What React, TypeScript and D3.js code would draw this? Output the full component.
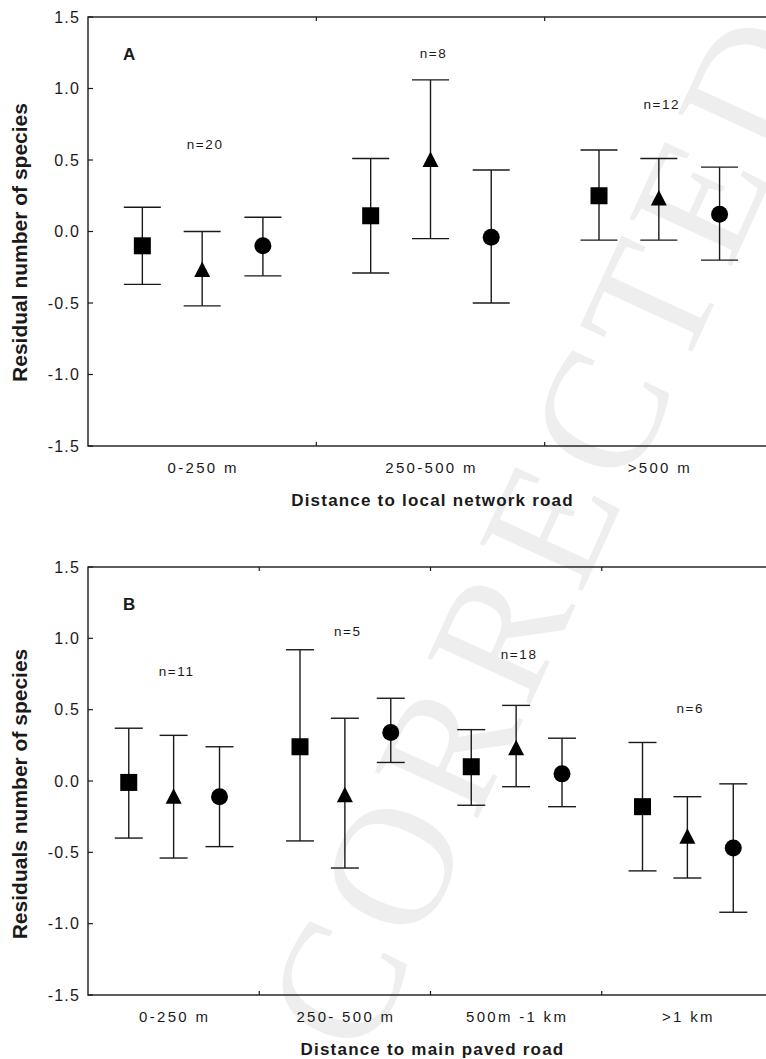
import { useRef, useEffect } from 'react';
import * as d3 from 'd3';

// panel A: distance to local network road
const catsA = ['0-250 m', '250-500 m', '>500 m'];
// each row: [square, triangle, circle]
const meansA = [
  [-0.10, -0.27, -0.10],
  [0.11, 0.50, -0.04],
  [0.25, 0.23, 0.12],
];
const lowA = [
  [-0.37, -0.52, -0.31],
  [-0.29, -0.05, -0.50],
  [-0.06, -0.06, -0.20],
];
const highA = [
  [0.17, 0.0, 0.10],
  [0.51, 1.06, 0.43],
  [0.57, 0.51, 0.45],
];
const nA = ['n=20', 'n=8', 'n=12'];
const nAY = [0.61, 1.25, 0.89];

// panel B: distance to main paved road
const catsB = ['0-250 m', '250- 500 m', '500m -1 km', '>1 km'];
const meansB = [
  [-0.01, -0.11, -0.11],
  [0.24, -0.10, 0.34],
  [0.10, 0.23, 0.05],
  [-0.18, -0.39, -0.47],
];
const lowB = [
  [-0.40, -0.54, -0.46],
  [-0.42, -0.61, 0.13],
  [-0.17, -0.04, -0.18],
  [-0.63, -0.68, -0.92],
];
const highB = [
  [0.37, 0.32, 0.24],
  [0.92, 0.44, 0.58],
  [0.36, 0.53, 0.30],
  [0.27, -0.11, -0.02],
];
const nB = ['n=11', 'n=5', 'n=18', 'n=6'];
const nBY = [0.77, 1.05, 0.89, 0.51];

const yTicks = [-1.5, -1.0, -0.5, 0.0, 0.5, 1.0, 1.5];

const FONT = "'Liberation Sans', Arial, sans-serif";
const INK = '#1a1a1a';

export default function App() {
  const svgRef = useRef(null);
  const width = 766;
  const height = 1059;

  useEffect(() => {
    document.body.style.margin = '0';
    const svg = d3.select(svgRef.current);
    svg.selectAll('*').remove();

    // faint watermark behind everything
    svg
      .append('text')
      .attr('transform', 'translate(545,532) rotate(-65.3)')
      .attr('text-anchor', 'middle')
      .attr('dy', '0.34em')
      .attr('font-family', "'Liberation Serif', 'DejaVu Serif', serif")
      .attr('font-size', 172)
      .attr('fill', '#eeeeee')
      .attr('textLength', 1110)
      .attr('lengthAdjust', 'spacing')
      .text('CORRECTED');

    const left = 88;
    const right = 773;

    const drawPanel = (cfg) => {
      const { top, bottom, cats, means, low, high, nLabels, nY, letter, yTitle, yTitleShift, xTitle, offsets, cap } = cfg;
      const g = svg.append('g');
      const x = d3.scaleBand().domain(cats).range([left, right]);
      const y = d3.scaleLinear().domain([-1.5, 1.5]).range([bottom, top]);
      const bw = x.bandwidth();

      // frame
      g.append('rect')
        .attr('x', left)
        .attr('y', top)
        .attr('width', right - left)
        .attr('height', bottom - top)
        .attr('fill', 'none')
        .attr('stroke', INK)
        .attr('stroke-width', 1.4);

      // y ticks (inward)
      g.selectAll('line.ytick')
        .data(yTicks)
        .join('line')
        .attr('x1', left)
        .attr('x2', left + 5)
        .attr('y1', (d) => y(d))
        .attr('y2', (d) => y(d))
        .attr('stroke', INK)
        .attr('stroke-width', 1.2);

      g.selectAll('text.ylab')
        .data(yTicks)
        .join('text')
        .attr('x', 80)
        .attr('y', (d) => y(d))
        .attr('dy', '0.36em')
        .attr('text-anchor', 'end')
        .attr('font-family', FONT)
        .attr('font-size', 16)
        .attr('letter-spacing', 1.2)
        .attr('fill', INK)
        .text((d) => d.toFixed(1));

      // category boundary ticks top & bottom
      const bounds = cats.slice(1).map((c) => x(c));
      g.selectAll('line.bt')
        .data(bounds)
        .join('line')
        .attr('x1', (d) => d)
        .attr('x2', (d) => d)
        .attr('y1', bottom)
        .attr('y2', bottom - 4)
        .attr('stroke', INK)
        .attr('stroke-width', 1.2);
      g.selectAll('line.tt')
        .data(bounds)
        .join('line')
        .attr('x1', (d) => d)
        .attr('x2', (d) => d)
        .attr('y1', top)
        .attr('y2', top + 4)
        .attr('stroke', INK)
        .attr('stroke-width', 1.2);

      // x labels
      g.selectAll('text.xlab')
        .data(cats)
        .join('text')
        .attr('x', (d) => x(d) + bw / 2 + 1)
        .attr('y', bottom + 27)
        .attr('text-anchor', 'middle')
        .attr('font-family', FONT)
        .attr('font-size', 15)
        .attr('letter-spacing', 2.3)
        .attr('fill', INK)
        .text((d) => d);

      // titles
      g.append('text')
        .attr('x', (left + right) / 2 + 2)
        .attr('y', bottom + 60)
        .attr('text-anchor', 'middle')
        .attr('font-family', FONT)
        .attr('font-weight', 700)
        .attr('font-size', 17)
        .attr('letter-spacing', 1.2)
        .attr('fill', INK)
        .text(xTitle);

      g.append('text')
        .attr('transform', `translate(27,${(top + bottom) / 2 + yTitleShift}) rotate(-90)`)
        .attr('text-anchor', 'middle')
        .attr('font-family', FONT)
        .attr('font-weight', 700)
        .attr('font-size', 21)
        .attr('fill', INK)
        .text(yTitle);

      g.append('text')
        .attr('x', left + 35)
        .attr('y', top + 43)
        .attr('font-family', FONT)
        .attr('font-weight', 700)
        .attr('font-size', 17)
        .attr('fill', INK)
        .text(letter);

      // n labels
      g.selectAll('text.n')
        .data(nLabels)
        .join('text')
        .attr('x', (d, i) => x(cats[i]) + bw / 2 + 3)
        .attr('y', (d, i) => y(nY[i]))
        .attr('dy', '0.36em')
        .attr('text-anchor', 'middle')
        .attr('font-family', FONT)
        .attr('font-size', 13.5)
        .attr('letter-spacing', 1.6)
        .attr('fill', INK)
        .text((d) => d);

      // error bars + markers
      const pts = [];
      cats.forEach((c, i) => {
        [0, 1, 2].forEach((k) => {
          pts.push({
            cx: x(c) + bw / 2 + offsets[k] * bw,
            m: means[i][k],
            lo: low[i][k],
            hi: high[i][k],
            k,
          });
        });
      });

      const bars = g.selectAll('g.bar').data(pts).join('g');
      bars
        .append('line')
        .attr('x1', (d) => d.cx)
        .attr('x2', (d) => d.cx)
        .attr('y1', (d) => y(d.lo))
        .attr('y2', (d) => y(d.hi))
        .attr('stroke', INK)
        .attr('stroke-width', 1.4);
      bars
        .append('line')
        .attr('x1', (d) => d.cx - cap)
        .attr('x2', (d) => d.cx + cap)
        .attr('y1', (d) => y(d.lo))
        .attr('y2', (d) => y(d.lo))
        .attr('stroke', INK)
        .attr('stroke-width', 1.4);
      bars
        .append('line')
        .attr('x1', (d) => d.cx - cap)
        .attr('x2', (d) => d.cx + cap)
        .attr('y1', (d) => y(d.hi))
        .attr('y2', (d) => y(d.hi))
        .attr('stroke', INK)
        .attr('stroke-width', 1.4);

      bars.each(function (d) {
        const b = d3.select(this);
        const cy = y(d.m);
        if (d.k === 0) {
          b.append('rect')
            .attr('x', d.cx - 8.5)
            .attr('y', cy - 8.5)
            .attr('width', 17)
            .attr('height', 17)
            .attr('fill', '#000');
        } else if (d.k === 1) {
          b.append('path')
            .attr('d', `M${d.cx},${cy - 8.5}L${d.cx + 8},${cy + 7}L${d.cx - 8},${cy + 7}Z`)
            .attr('fill', '#000');
        } else {
          b.append('circle')
            .attr('cx', d.cx)
            .attr('cy', cy)
            .attr('r', 8.5)
            .attr('fill', '#000');
        }
      });
    };

    drawPanel({
      top: 17,
      bottom: 446,
      cats: catsA,
      means: meansA,
      low: lowA,
      high: highA,
      nLabels: nA,
      nY: nAY,
      letter: 'A',
      yTitle: 'Residual number of species',
      yTitleShift: 11,
      xTitle: 'Distance to local network road',
      offsets: [-0.262, 0, 0.266],
      cap: 18.5,
    });

    drawPanel({
      top: 567,
      bottom: 995,
      cats: catsB,
      means: meansB,
      low: lowB,
      high: highB,
      nLabels: nB,
      nY: nBY,
      letter: 'B',
      yTitle: 'Residuals number of species',
      yTitleShift: 13,
      xTitle: 'Distance to main paved road',
      offsets: [-0.262, 0, 0.268],
      cap: 14,
    });
  }, []);

  return (
    <svg
      ref={svgRef}
      width={width}
      height={height}
      viewBox={`0 0 ${width} ${height}`}
      style={{ display: 'block', background: '#fff' }}
    ></svg>
  );
}
